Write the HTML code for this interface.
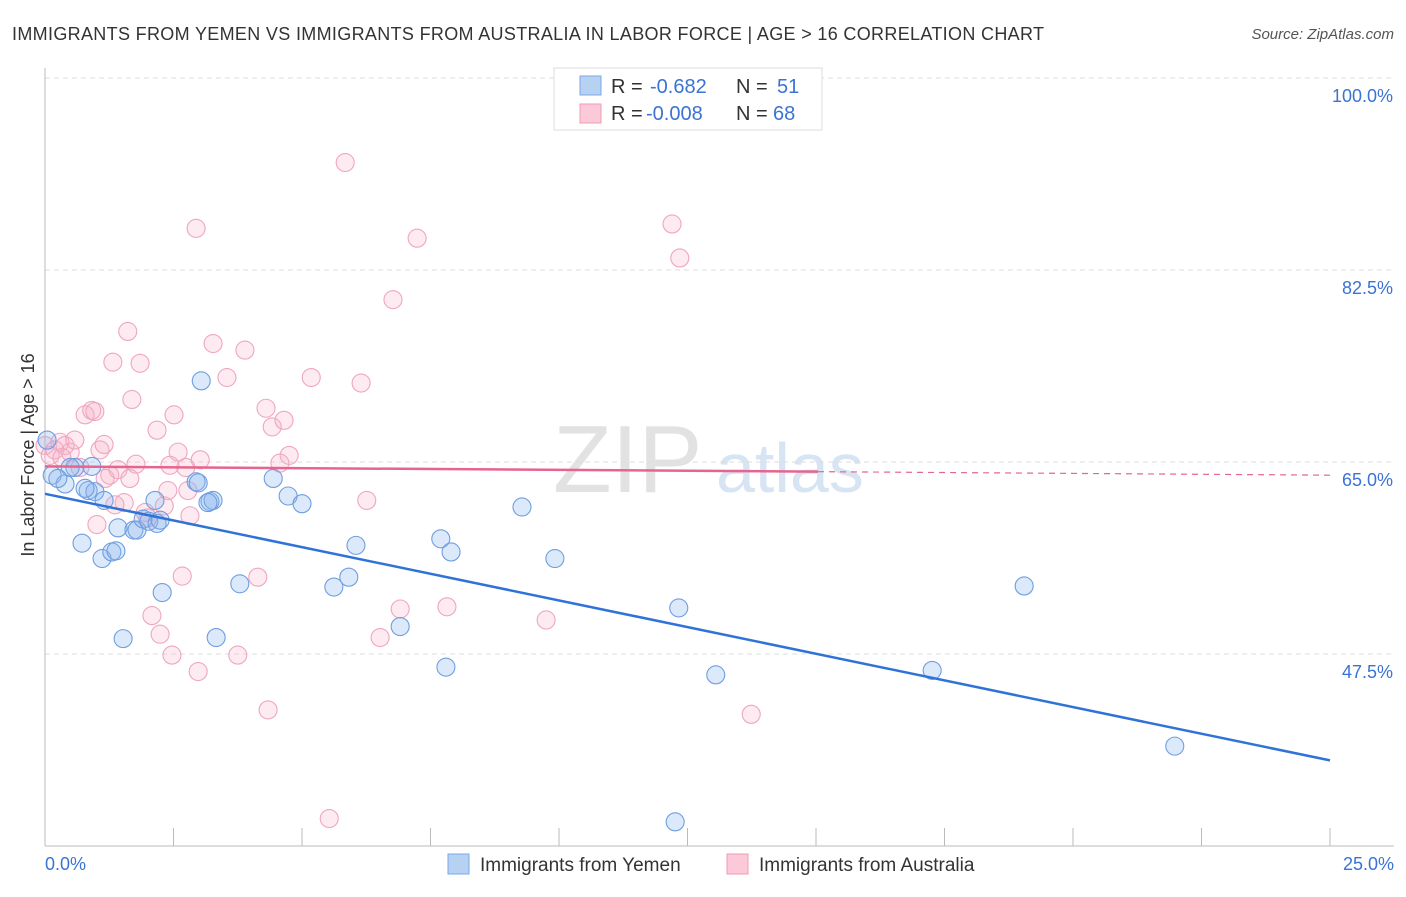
<!DOCTYPE html>
<html><head><meta charset="utf-8"><style>
body{margin:0;background:#fff;font-family:"Liberation Sans",sans-serif}
svg text{font-family:"Liberation Sans",sans-serif}
</style></head><body>
<svg id="chart" width="1406" height="892">
<text x="12" y="40" font-size="18" fill="#333" textLength="1032">IMMIGRANTS FROM YEMEN VS IMMIGRANTS FROM AUSTRALIA IN LABOR FORCE | AGE &gt; 16 CORRELATION CHART</text>
<text x="1394" y="39" font-size="15" fill="#555" text-anchor="end" font-style="italic">Source: ZipAtlas.com</text>
<text x="34" y="455" font-size="18" fill="#333" text-anchor="middle" transform="rotate(-90 34 455)">In Labor Force | Age &gt; 16</text>
<text x="553" y="492" font-size="96" fill="#e2e2e2" font-family="Liberation Serif">ZIP</text>
<text x="716" y="492" font-size="70" fill="#d6e4f4">atlas</text>
<g id="grid"></g><g id="axes"></g><g id="pts"></g><g id="trend"></g>
<g>
<rect x="554" y="68" width="268" height="62" fill="#fff" stroke="#ddd"/>
<rect x="580" y="76" width="21" height="19" fill="#b7d1f3" stroke="#7aa7e6"/>
<rect x="580" y="104" width="21" height="19" fill="#fcc9d8" stroke="#f09ab6"/>
<text x="611" y="93" font-size="20" fill="#333">R = <tspan x="650" fill="#3b73d4">-0.682</tspan><tspan x="736">N = </tspan><tspan x="777" fill="#3b73d4">51</tspan></text>
<text x="611" y="120" font-size="20" fill="#333">R = <tspan x="646" fill="#3b73d4">-0.008</tspan><tspan x="736">N = </tspan><tspan x="773" fill="#3b73d4">68</tspan></text>
</g>
<g>
<rect x="448" y="854" width="21" height="20" fill="#b7d1f3" stroke="#7aa7e6"/>
<text x="480" y="871" font-size="19" fill="#333">Immigrants from Yemen</text>
<rect x="727" y="854" width="21" height="20" fill="#fcc9d8" stroke="#f09ab6"/>
<text x="759" y="871" font-size="19" fill="#333">Immigrants from Australia</text>
</g>
</svg>
<script>
const yTicks=[47.5,65.0,82.5,100.0];
const blueX=[0.04,0.14,0.39,0.58,0.84,0.97,1.15,0.72,1.11,1.30,1.38,1.42,1.73,1.79,1.91,2.02,2.14,2.18,1.52,2.28,3.04,2.94,2.98,3.21,3.27,3.33,3.79,4.44,4.73,5.00,5.62,5.91,6.05,6.91,7.70,7.90,7.80,9.28,9.92,12.33,12.26,13.05,17.26,19.05,21.98,0.49,0.25,0.91,2.24,0.78,3.17];
const blueY=[67.0,63.8,63.0,64.5,62.4,62.3,61.5,57.6,56.2,56.8,56.9,59.0,58.8,58.8,59.8,59.6,61.5,59.4,48.9,53.1,72.4,63.2,63.1,61.4,61.5,49.0,53.9,63.5,61.9,61.2,53.6,54.5,57.4,50.0,58.0,56.8,46.3,60.9,56.2,51.7,32.2,45.6,46.0,53.7,39.1,64.5,63.5,64.6,59.7,62.6,61.3];
const pinkX=[0,0.10,0.19,0.29,0.39,0.49,0.58,0.78,0.91,0.97,1.07,1.15,1.26,1.17,1.01,1.32,1.42,1.54,1.61,1.69,1.85,1.77,1.95,2.08,2.18,2.24,2.32,2.39,2.47,2.51,2.59,2.67,2.74,2.78,2.82,2.94,2.98,3.27,3.54,3.89,4.14,4.30,4.34,4.42,4.57,4.65,4.75,5.18,5.53,5.84,6.15,6.26,6.52,6.77,6.91,7.24,7.82,9.75,12.20,12.35,13.74,2.00,0.33,0.68,1.65,2.43,3.02,1.36,3.75];
const pinkY=[66.5,65.6,66.1,66.8,66.5,65.9,67.0,69.3,69.7,69.6,66.1,66.6,63.8,63.5,59.3,74.1,64.3,61.3,76.9,70.7,74.0,64.8,60.4,51.0,67.9,49.3,61.0,62.4,47.4,69.3,65.9,54.6,64.5,62.4,60.1,86.3,45.9,75.8,72.7,75.2,54.5,69.9,42.4,68.2,64.9,68.8,65.6,72.7,32.5,92.3,72.2,61.5,49.0,79.8,51.6,85.4,51.8,50.6,86.7,83.6,42.0,59.9,65.4,64.5,63.5,64.7,65.2,61.1,47.4];
const blueTrend=[62.1,37.8];
const pinkTrend=[64.6,63.8];
const NS='http://www.w3.org/2000/svg';
const X=v=>45+v*51.4, Y=v=>462-(v-65)*10.97;
function mk(t,a,p){const e=document.createElementNS(NS,t);for(const k in a)e.setAttribute(k,a[k]);p.appendChild(e);return e;}
const grid=document.getElementById('grid'),axes=document.getElementById('axes'),pts=document.getElementById('pts'),tr=document.getElementById('trend');
yTicks.forEach(t=>{
 const l=mk('line',{x1:45,x2:1394,y1:Y(t),y2:Y(t),stroke:'#ddd','stroke-dasharray':'5,4'},grid);
 
 
 const tx=mk('text',{x:1393,y:Y(t)+24,'font-size':18,fill:'#3b73d4','text-anchor':'end'},axes);
 tx.textContent=t.toFixed(1)+'%';
 
 
});
mk('line',{x1:45,x2:45,y1:68,y2:846,stroke:'#bbb'},axes);
mk('line',{x1:45,x2:1394,y1:846,y2:846,stroke:'#bbb'},axes);
for(let i=0;i<=10;i++){mk('line',{x1:X(i*2.5),x2:X(i*2.5),y1:828,y2:846,stroke:'#bbb'},axes);}
const x0=mk('text',{x:45,y:870,'font-size':18,fill:'#3b73d4'},axes);x0.textContent='0.0%';


const x1=mk('text',{x:1394,y:870,'font-size':18,fill:'#3b73d4','text-anchor':'end'},axes);x1.textContent='25.0%';


pinkX.forEach((v,i)=>{const c=mk('circle',{cx:X(v),cy:Y(pinkY[i]),r:9,fill:'rgba(247,175,198,0.25)',stroke:'#efa6be','stroke-width':1.1},pts);
 
 });
blueX.forEach((v,i)=>{const c=mk('circle',{cx:X(v),cy:Y(blueY[i]),r:9,fill:'rgba(140,182,237,0.3)',stroke:'#6f9ee0','stroke-width':1.1},pts);
 
 });
const bl=mk('line',{x1:X(0),y1:Y(blueTrend[0]),x2:X(25),y2:Y(blueTrend[1]),stroke:'#2f72d8','stroke-width':2.5},tr);


const pm=pinkTrend[0]+(pinkTrend[1]-pinkTrend[0])*15.04/25;
const pl=mk('line',{x1:X(0),y1:Y(pinkTrend[0]),x2:X(15.04),y2:Y(pm),stroke:'#e6658f','stroke-width':2.5},tr);


const pd=mk('line',{x1:X(15.04),y1:Y(pm),x2:X(25),y2:Y(pinkTrend[1]),stroke:'#e6658f','stroke-width':1.2,'stroke-dasharray':'6,5'},tr);


</script>
</body></html>
